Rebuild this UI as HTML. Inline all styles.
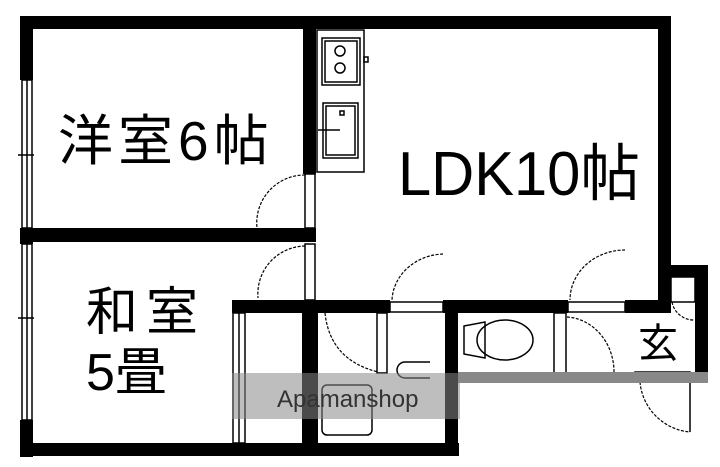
<!DOCTYPE html>
<html><head><meta charset="utf-8"><style>
html,body{margin:0;padding:0;background:#fff;width:720px;height:467px;overflow:hidden}
svg{display:block}
text{font-family:"Liberation Sans","Noto Sans CJK JP",sans-serif}
</style></head><body>
<svg width="720" height="467" viewBox="0 0 720 467" xmlns="http://www.w3.org/2000/svg">
<g fill="#000">
<rect x="20" y="16" width="651" height="13"/>
<rect x="20" y="16" width="13" height="64"/>
<rect x="20" y="228" width="13" height="16"/>
<rect x="20" y="420" width="13" height="37"/>
<rect x="658" y="16" width="13" height="297"/>
<rect x="303" y="16" width="13" height="158"/>
<rect x="20" y="228" width="296" height="14"/>
<rect x="232" y="300" width="158" height="13"/>
<rect x="443" y="300" width="125" height="13"/>
<rect x="625" y="300" width="46" height="13"/>
<rect x="20" y="443" width="439" height="13"/>
<rect x="302" y="300" width="16" height="155"/>
<rect x="445" y="300" width="13" height="155"/>
<rect x="658" y="265" width="50" height="12"/>
<rect x="695" y="265" width="13" height="108"/>
</g>
<g fill="none" stroke="#000" stroke-width="1.5">
<rect x="22" y="80" width="10" height="148"/>
<line x1="27" y1="80" x2="27" y2="228"/>
<rect x="22" y="244" width="10" height="176"/>
<line x1="27" y1="244" x2="27" y2="420"/>
<line x1="18" y1="155" x2="34" y2="155"/>
<line x1="18" y1="318" x2="34" y2="318"/>
<rect x="305" y="174" width="10" height="54"/>
<rect x="305" y="244" width="10" height="56"/>
<rect x="390" y="302" width="53" height="10"/>
<rect x="568" y="302" width="57" height="10"/>
<rect x="233" y="313" width="12" height="130"/>
<line x1="239" y1="313" x2="239" y2="443"/>
<rect x="377" y="313" width="10" height="60"/>
<rect x="554" y="313" width="12" height="60"/>
<rect x="635" y="372" width="55" height="10"/>
<line x1="690" y1="382" x2="690" y2="432"/>
<rect x="671" y="277" width="24" height="25"/>
<rect x="317" y="30" width="47" height="142"/>
<rect x="322" y="38" width="38" height="47"/>
<rect x="325" y="41" width="32" height="41"/>
<circle cx="340" cy="51" r="5"/>
<circle cx="340" cy="68" r="5"/>
<rect x="364" y="57" width="4" height="5"/>
<rect x="323" y="103" width="35" height="55"/>
<rect x="326" y="106" width="29" height="49"/>
<rect x="340" y="111" width="4" height="4"/>
<line x1="318" y1="130" x2="340" y2="130"/>
<path d="M464 326 L485 322 L485 358 L464 354 Z"/>
<ellipse cx="505" cy="340" rx="28" ry="20"/>
<rect x="322" y="385" width="50" height="50" rx="5"/>
<path d="M430 362 L405 362 A8 8 0 0 0 405 378 L430 378"/>
</g>
<g fill="none" stroke="#000" stroke-width="1.2" stroke-dasharray="3,1.5">
<path d="M305 175 A48 48 0 0 0 257 228"/>
<path d="M305 246 A48 48 0 0 0 258 298"/>
<path d="M443 254 A53 48 0 0 0 392 300"/>
<path d="M625 250 A55 50 0 0 0 570 300"/>
<path d="M325 313 Q330 360 378 372"/>
<path d="M567 317 A50 55 0 0 1 614 372"/>
<path d="M640 382 A55 55 0 0 0 690 432"/>
<path d="M672 302 A22 22 0 0 0 694 320"/>
</g>
<rect x="232" y="373" width="228" height="46" fill="#888" opacity="0.55"/>
<rect x="458" y="372" width="250" height="11" fill="#888"/>
<text x="277" y="407" font-size="24" fill="#333">Apamanshop</text>
<text x="58" y="160" font-size="55" fill="#000" letter-spacing="5">洋室6帖</text>
<text x="398" y="195" font-size="62" fill="#000" textLength="242" lengthAdjust="spacingAndGlyphs">LDK10帖</text>
<text x="86" y="330" font-size="52" fill="#000" letter-spacing="8">和室</text>
<text x="86" y="390" font-size="52" fill="#000">5畳</text>
<text x="638" y="357" font-size="40" fill="#000">玄</text>
</svg>
</body></html>
